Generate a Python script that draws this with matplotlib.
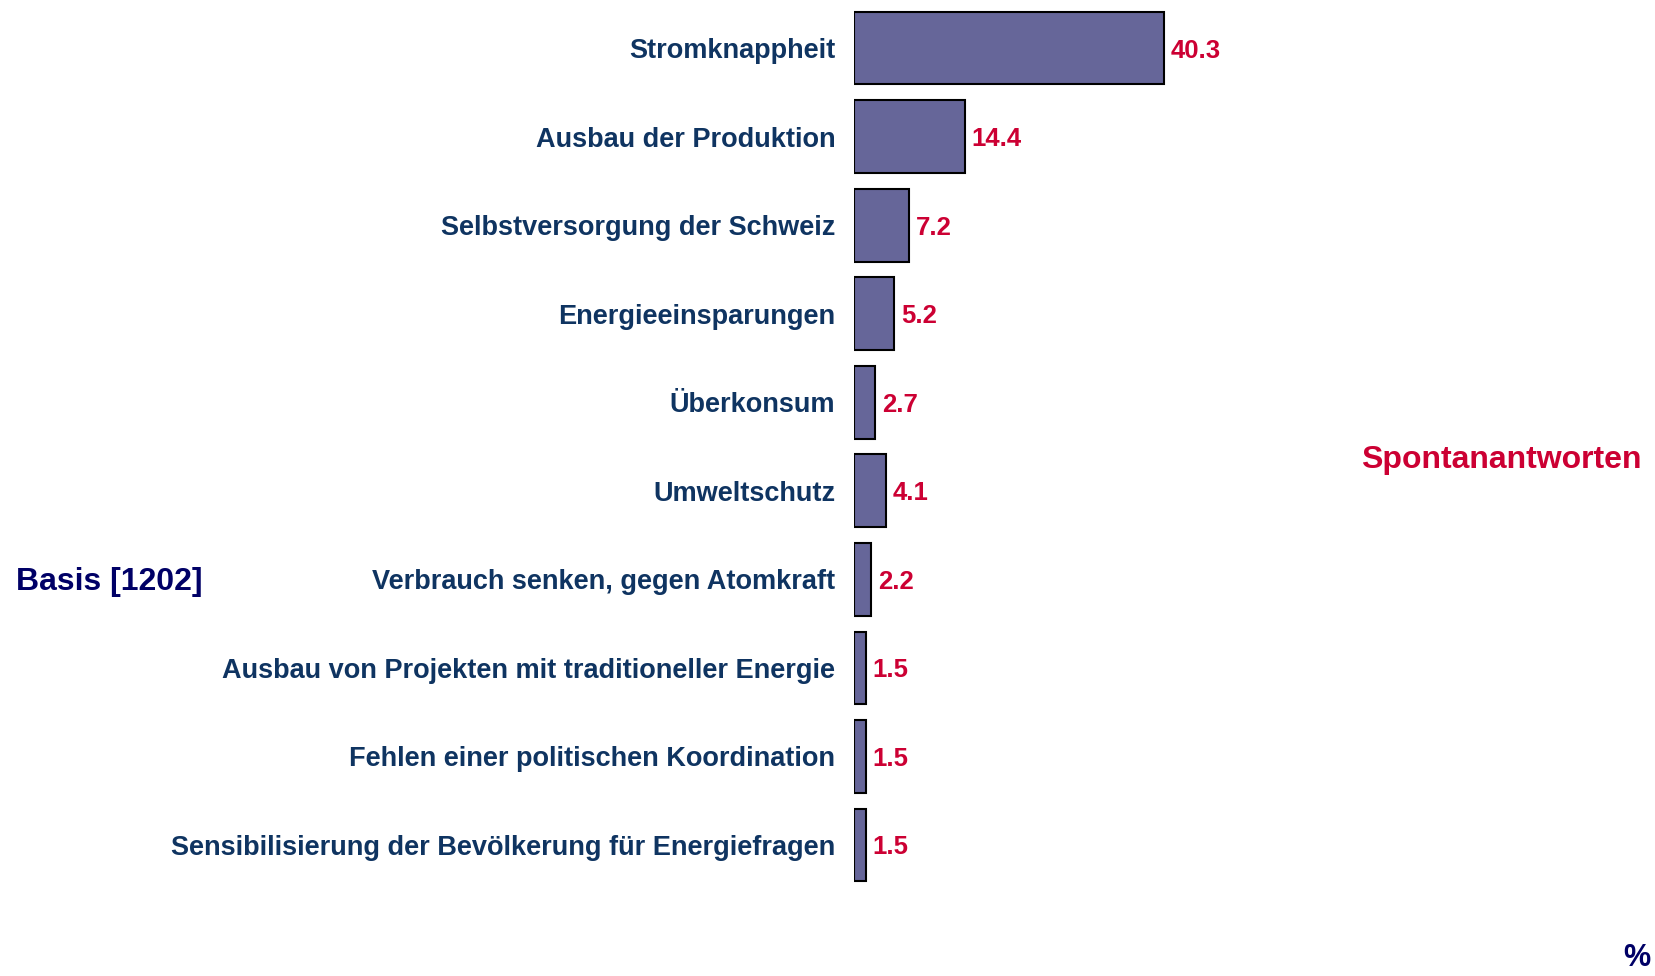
import matplotlib.pyplot as plt

plt.rcParams['font.family'] = ['Liberation Sans', 'DejaVu Sans']

categories = [
    "Stromknappheit",
    "Ausbau der Produktion",
    "Selbstversorgung der Schweiz",
    "Energieeinsparungen",
    "Überkonsum",
    "Umweltschutz",
    "Verbrauch senken, gegen Atomkraft",
    "Ausbau von Projekten mit traditioneller Energie",
    "Fehlen einer politischen Koordination",
    "Sensibilisierung der Bevölkerung für Energiefragen",
]
values = [40.3, 14.4, 7.2, 5.2, 2.7, 4.1, 2.2, 1.5, 1.5, 1.5]
value_labels = ["40.3", "14.4", "7.2", "5.2", "2.7", "4.1", "2.2", "1.5", "1.5", "1.5"]

label_color = "#0f3461"
value_color = "#cc0033"
navy = "#000066"

fig = plt.figure(figsize=(16.55, 9.76), dpi=100)
ax = fig.add_axes([0.516, 0.089, 0.465, 0.907])

pos = list(range(len(categories)))
ax.barh(pos, values, height=0.82, color="#666699", edgecolor="black", linewidth=1.5)
ax.set_ylim(len(categories) - 0.5, -0.5)
ax.set_xlim(0, 100)

ax.set_yticks(pos)
ax.set_yticklabels(categories, fontsize=19.5, fontweight="bold", color=label_color)
ax.tick_params(axis="y", length=0, pad=13.5)
ax.set_xticks([])
for s in ax.spines.values():
    s.set_visible(False)

for p, v, lab in zip(pos, values, value_labels):
    ax.annotate(lab, xy=(v, p), xytext=(5, 0), textcoords="offset points",
                ha="left", va="center_baseline", fontsize=18.5, fontweight="bold",
                color=value_color)

fig.text(0.0097, 1 - 582 / 976, "Basis [1202]", fontsize=23, fontweight="bold",
         color=navy, ha="left", va="center")
fig.text(1642 / 1655, 1 - 460 / 976, "Spontanantworten", fontsize=23, fontweight="bold",
         color=value_color, ha="right", va="center")
fig.text(1650 / 1655, 3 / 976, "%", fontsize=22, fontweight="bold",
         color=navy, ha="right", va="bottom")

fig.savefig("out.png", dpi=100)
